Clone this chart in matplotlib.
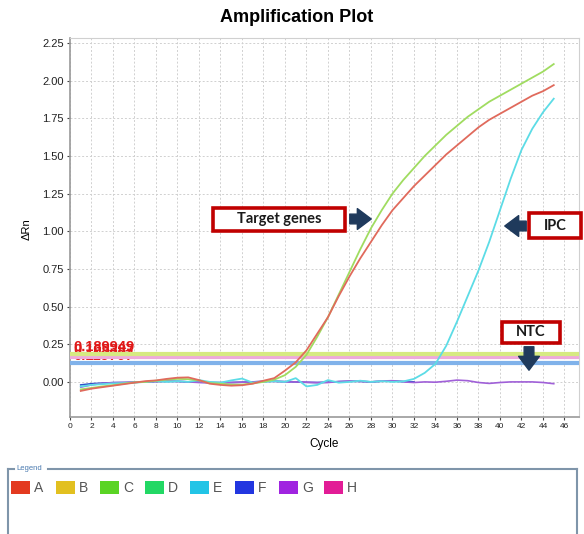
import matplotlib
matplotlib.use("Agg")
import matplotlib.pyplot as plt
from matplotlib.patches import Rectangle, FancyArrowPatch

plt.rcParams['font.family'] = ['Liberation Sans', 'DejaVu Sans']

# ---- data -------------------------------------------------------------
cycles = list(range(1, 46))

well_a = [-0.06, -0.045, -0.035, -0.025, -0.015, -0.005, 0.005, 0.01, 0.02, 0.028,
          0.03, 0.012, -0.012, -0.02, -0.025, -0.022, -0.012, 0.008, 0.025, 0.075,
          0.13, 0.21, 0.32, 0.43, 0.57, 0.70, 0.82, 0.93, 1.04, 1.14,
          1.22, 1.30, 1.37, 1.44, 1.51, 1.57, 1.63, 1.69, 1.74, 1.78,
          1.82, 1.86, 1.90, 1.93, 1.97]

well_c = [-0.05, -0.04, -0.03, -0.022, -0.012, -0.003, 0.0, 0.008, 0.015, 0.02,
          0.018, 0.01, -0.008, -0.012, -0.018, -0.018, -0.01, 0.0, 0.015, 0.045,
          0.10, 0.18, 0.30, 0.43, 0.58, 0.73, 0.88, 1.02, 1.14, 1.25,
          1.34, 1.42, 1.50, 1.57, 1.64, 1.70, 1.76, 1.81, 1.86, 1.90,
          1.94, 1.98, 2.02, 2.06, 2.11]

well_e = [-0.03, -0.02, -0.015, -0.01, -0.008, -0.005, 0.0, 0.005, 0.0, 0.005,
          0.0, 0.012, 0.0, -0.005, 0.01, 0.022, -0.005, 0.0, 0.005, 0.0,
          0.025, -0.03, -0.02, 0.012, -0.005, 0.0, 0.008, 0.0, 0.005, 0.0,
          0.003, 0.02, 0.06, 0.12, 0.24, 0.40, 0.57, 0.74, 0.93, 1.14,
          1.35, 1.54, 1.68, 1.79, 1.88]

well_f = [-0.02, -0.012, -0.008, -0.005, -0.004, -0.002, 0.0, 0.002, 0.004, 0.003,
          0.0, -0.002, -0.004, -0.005, -0.004, -0.002, 0.0, 0.003, 0.004, 0.002,
          0.0, -0.003, -0.004, -0.002, 0.002, 0.004, 0.003, 0.0, 0.004, 0.006,
          0.003, 0.0]

well_g = [-0.035, -0.02, -0.01, -0.005, -0.004, -0.003, 0.0, 0.003, 0.004, 0.004,
          0.0, -0.004, -0.006, -0.005, -0.004, -0.002, 0.0, 0.004, 0.004, 0.0,
          0.0, -0.002, -0.005, -0.004, 0.002, 0.006, 0.004, 0.0, 0.006, 0.008,
          0.0, -0.004, 0.0, -0.002, 0.004, 0.012, 0.008, -0.004, -0.01, -0.004,
          0.0, 0.0, 0.0, -0.004, -0.012]

thresholds = [0.186, 0.166, 0.125]
threshold_labels = ["0.189949", "0.165387", "0.119707"]
threshold_colors = ["#d6ea82", "#eeaadc", "#80b2ea"]

legend_labels = ["A", "B", "C", "D", "E", "F", "G", "H"]
legend_colors = ["#e33a20", "#e2c020", "#5ad424", "#22d864",
                 "#22c4e6", "#2236e0", "#a024e0", "#e21c96"]

W, H = 584, 534


def fx(px):
    return px / W


def fy(py):
    return 1 - py / H


fig = plt.figure(figsize=(W / 100, H / 100), dpi=100)
ax = fig.add_axes([fx(70), fy(417), (579 - 70) / W, (417 - 38) / H])

# threshold lines and their labels (labels sit on top of each other, as in the software)
for val, col in zip(thresholds[::-1], threshold_colors[::-1]):
    ax.axhline(val, color=col, lw=3, zorder=3)
for i, (val, lab) in enumerate(zip(thresholds[::-1], threshold_labels[::-1])):
    ax.text(0.3, val + 0.002, lab, color="#e01818", fontsize=10.5,
            fontweight="bold", va="bottom", ha="left",
            zorder=2 if i < 2 else 5)

ax.plot(cycles[:len(well_f)], well_f, color="#3050c8", lw=1.2, zorder=4)
ax.plot(cycles, well_g, color="#a060d8", lw=1.2, zorder=4)
ax.plot(cycles, well_e, color="#5cdce6", lw=1.3, zorder=4)
ax.plot(cycles, well_c, color="#a0dc60", lw=1.3, zorder=4)
ax.plot(cycles, well_a, color="#e06a5c", lw=1.3, zorder=4)

ax.set_xlim(0, 47.35)
ax.set_ylim(-0.233, 2.283)
ax.set_xticks(range(0, 47, 2))
ax.set_yticks([i * 0.25 for i in range(10)])
ax.set_yticklabels(["%.2f" % (i * 0.25) for i in range(10)])
ax.tick_params(axis="x", labelsize=6, length=2.5, pad=2, colors="#444444")
ax.tick_params(axis="y", labelsize=8, length=2.5, pad=2, colors="#444444")
for lbl in ax.get_xticklabels() + ax.get_yticklabels():
    lbl.set_color("#222222")
ax.grid(True, color="#d0d0d0", linestyle=(0, (2, 2)), lw=0.7)
ax.set_axisbelow(True)
for side in ["top", "right"]:
    ax.spines[side].set_color("#d0d0d0")
for side in ["left", "bottom"]:
    ax.spines[side].set_color("#9a9a9a")
    ax.spines[side].set_linewidth(1.2)

fig.text(fx(297), fy(18), "Amplification Plot", fontsize=13, fontweight="bold",
         ha="center", va="center")
fig.text(fx(27), fy(229), "\u0394Rn", fontsize=8, rotation=90, ha="center", va="center")
fig.text(fx(324), fy(444), "Cycle", fontsize=8.5, ha="center", va="center")

# annotation boxes and arrows
navy = "#1f3a5c"
boxes = [("Target genes", 213, 208, 345, 231),
         ("IPC", 529, 213, 581, 238),
         ("NTC", 502, 322, 560, 343)]
for text, x0, y0, x1, y1 in boxes:
    fig.add_artist(Rectangle((fx(x0), fy(y1)), (x1 - x0) / W, (y1 - y0) / H,
                             transform=fig.transFigure, facecolor="white",
                             edgecolor="#c00000", lw=2.6, zorder=10))
    fig.text(fx((x0 + x1) / 2), fy((y0 + y1) / 2), text, fontsize=10.5,
             fontweight="bold", family="Lato", color="#1a1a1a",
             ha="center", va="center", zorder=11)

arrows = [((347, 219), (374, 219)), ((529, 226), (502, 226)), ((529, 344), (529, 373))]
for (xa, ya), (xb, yb) in arrows:
    fig.add_artist(FancyArrowPatch((fx(xa), fy(ya)), (fx(xb), fy(yb)),
                                   transform=fig.transFigure,
                                   arrowstyle="simple,head_width=1.5,head_length=1.0,tail_width=0.7",
                                   mutation_scale=10, color=navy, zorder=10))

# legend frame
frame = "#7f95aa"
fig.add_artist(plt.Line2D([fx(8), fx(8)], [fy(469), 0], transform=fig.transFigure,
                          color=frame, lw=1.5))
fig.add_artist(plt.Line2D([fx(8), fx(14)], [fy(469), fy(469)], transform=fig.transFigure,
                          color=frame, lw=1.5))
fig.add_artist(plt.Line2D([fx(48), fx(577)], [fy(469), fy(469)], transform=fig.transFigure,
                          color=frame, lw=1.5))
fig.add_artist(plt.Line2D([fx(577), fx(577)], [fy(469), 0], transform=fig.transFigure,
                          color=frame, lw=1.5))
fig.text(fx(16), fy(468), "Legend", fontsize=5.5, color="#4a7ab0", ha="left", va="center")

for i, (lab, col) in enumerate(zip(legend_labels, legend_colors)):
    x0 = 11 + i * 44.7
    fig.add_artist(Rectangle((fx(x0), fy(494)), 19 / W, 13 / H,
                             transform=fig.transFigure, facecolor=col,
                             edgecolor="none"))
    fig.text(fx(x0 + 23), fy(488), lab, fontsize=10, color="#555555",
             ha="left", va="center")

fig.savefig("out.png", dpi=100)
